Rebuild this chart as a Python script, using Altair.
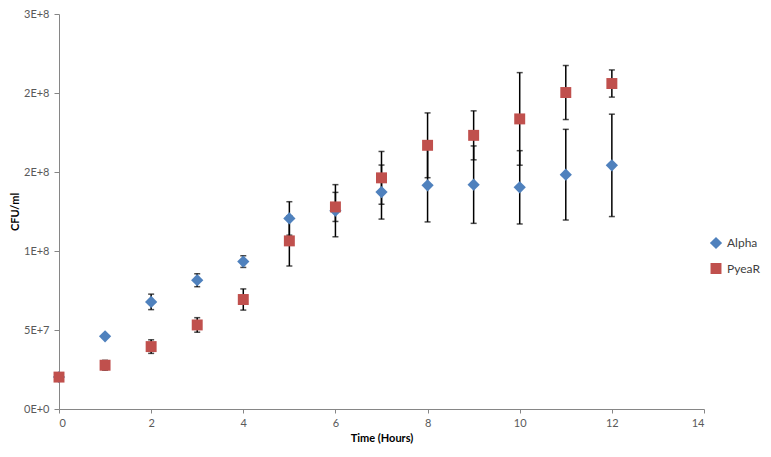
import pandas as pd
import altair as alt

# time points (hours)
hours = list(range(13))

# CFU/ml
alpha = [2.02e7, 4.60e7, 6.78e7, 8.15e7, 9.33e7, 1.206e8, 1.255e8,
         1.373e8, 1.416e8, 1.420e8, 1.403e8, 1.483e8, 1.542e8]
alpha_err = [0, 0, 0.49e7, 0.41e7, 0.37e7, 1.06e7, 1.65e7,
             1.71e7, 2.32e7, 2.45e7, 2.32e7, 2.87e7, 3.24e7]
pyear = [2.02e7, 2.77e7, 3.95e7, 5.32e7, 6.93e7, 1.064e8, 1.279e8,
         1.463e8, 1.669e8, 1.732e8, 1.836e8, 2.003e8, 2.060e8]
pyear_err = [0, 0.31e7, 0.43e7, 0.46e7, 0.67e7, 1.59e7, 0.92e7,
             1.67e7, 2.05e7, 1.55e7, 2.93e7, 1.71e7, 0.86e7]

series = ["Alpha", "PyeaR"]
colors = ["#4F81BD", "#C0504D"]
shapes = ["diamond", "square"]

df = pd.concat(
    [
        pd.DataFrame({"hours": hours, "cfu": v, "err": e, "series": name})
        for name, v, e in [("Alpha", alpha, alpha_err), ("PyeaR", pyear, pyear_err)]
    ],
    ignore_index=True,
)
df["lo"] = df["cfu"] - df["err"]
df["hi"] = df["cfu"] + df["err"]
bars_df = df[df["err"] > 0]

x = alt.X("hours:Q").scale(domain=[0, 14], nice=False).axis(
    values=list(range(0, 15, 2)), title="Time (Hours)"
)
y_ticks = [0, 5e7, 1e8, 1.5e8, 2e8, 2.5e8]
y_axis = alt.Axis(
    values=y_ticks,
    title="CFU/ml",
    labelExpr="upper(format(datum.value, '.0e'))",
)

rules = alt.Chart(bars_df).mark_rule(color="black", strokeWidth=1.5).encode(
    x=x,
    y=alt.Y("lo:Q").scale(domain=[0, 2.5e8], nice=False).axis(y_axis),
    y2="hi:Q",
)
cap_lo = alt.Chart(bars_df).mark_tick(
    orient="horizontal", size=6, thickness=1.5, color="black"
).encode(x=x, y="lo:Q")
cap_hi = alt.Chart(bars_df).mark_tick(
    orient="horizontal", size=6, thickness=1.5, color="black"
).encode(x=x, y="hi:Q")

points = alt.Chart(df).mark_point(filled=True, opacity=1).encode(
    x=x,
    y="cfu:Q",
    color=alt.Color("series:N").scale(domain=series, range=colors).legend(
        title=None, orient="none", legendX=650, legendY=222
    ),
    shape=alt.Shape("series:N").scale(domain=series, range=shapes),
    size=alt.Size("series:N").scale(domain=series, range=[150, 120]).legend(None),
)

chart = (
    alt.layer(rules, cap_lo, cap_hi, points)
    .properties(
        width=645,
        height=395,
        autosize=alt.AutoSizeParams(type="none"),
        padding={"left": 51, "top": 6, "right": 59, "bottom": 40},
    )
    .configure_view(stroke=None)
    .configure_axis(
        grid=False,
        domainColor="#868686",
        tickColor="#868686",
        labelColor="#595959",
        labelFont="Lato",
        labelFontSize=11,
        titleFont="Lato",
        titleFontSize=11,
        titleFontWeight="bold",
        titleColor="black",
    )
    .configure_axisX(tickSize=4, labelPadding=4, titlePadding=4)
    .configure_axisY(tickSize=5, labelPadding=5, titlePadding=3)
    .configure_legend(
        labelFont="Lato", labelFontSize=12, labelColor="#404040",
        symbolSize=70, rowPadding=7, symbolOpacity=1,
    )
)

chart.save("out.html", embed_options={"renderer": "svg", "actions": False})
